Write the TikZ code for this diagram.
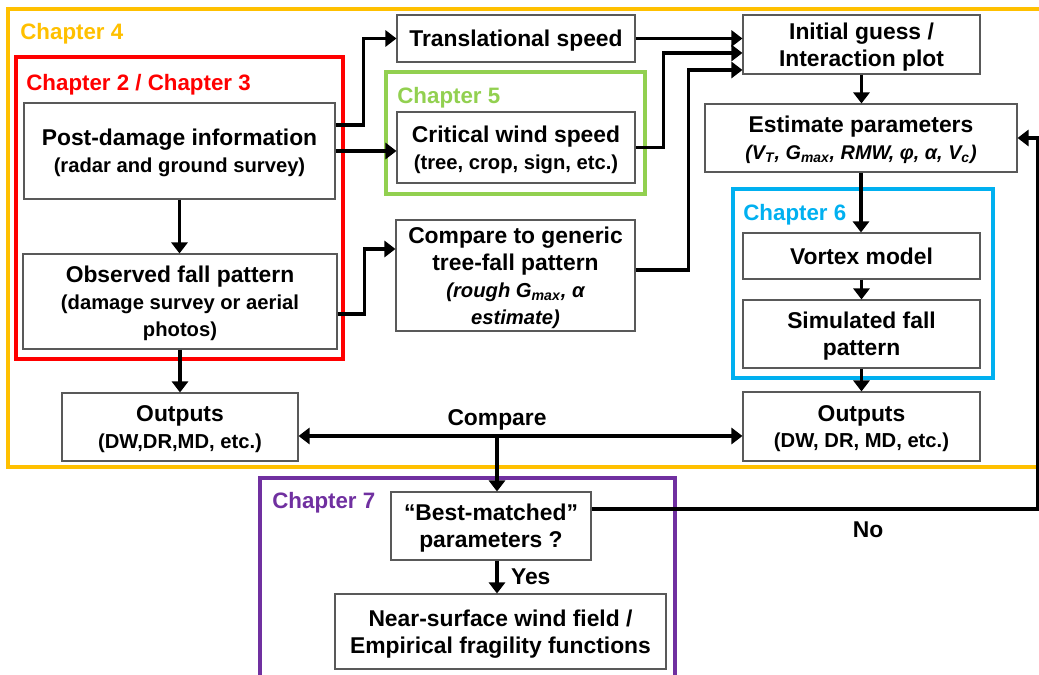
\documentclass[tikz,border=0pt]{standalone}
\usepackage{fontspec}
\setmainfont{Liberation Sans}
\usetikzlibrary{positioning, calc, arrows.meta}
\definecolor{chfour}{HTML}{FFC000}
\definecolor{chtwo}{HTML}{FF0000}
\definecolor{chfive}{HTML}{92D050}
\definecolor{chsix}{HTML}{00B0F0}
\definecolor{chseven}{HTML}{7030A0}
\newcommand{\subtxt}{\fontsize{11.5}{13.6}\selectfont}
\newcommand{\itsub}[2]{\textit{#1}\textsubscript{\textit{#2}}}

\begin{document}
\begin{tikzpicture}[x=0.02cm, y=-0.02cm,
		blk/.style={draw=gray!70!black, line width=0.6pt, rectangle, align=center, inner sep=2pt, text depth=-2pt, font=\bfseries\fontsize{13}{15.3}\selectfont},
		sz/.style 2 args={minimum width=#1*0.02cm, minimum height=#2*0.02cm},
		frame/.style={line width=1.8pt},
		chap/.style={anchor=west, inner sep=0pt, font=\bfseries\fontsize{12.7}{14}\selectfont},
		lbl/.style={inner sep=1pt, font=\bfseries\fontsize{13}{15}\selectfont},
		arrow/.style={line width=2pt, -{Triangle[length=0.22cm, width=0.32cm]}}]
	\useasboundingbox (0,0) rectangle (1039,675);

	\draw[frame, chfour] (1039,9) -- (8,9) -- (8,467) -- (1039,467);
	\draw[frame, chtwo, line width=2.2pt] (16,57) rectangle (343,359);
	\draw[frame, chfive] (386,72) rectangle (645,194);
	\draw[frame, chsix] (733,189) rectangle (993,378);
	\draw[frame, chseven] (260,680) -- (260,478) -- (675,478) -- (675,680);

	\node[chap, chfour] (c4) at (20,34) {Chapter 4};
	\node[chap, chtwo] (c2) at (26,85) {Chapter 2 / Chapter 3};
	\node[chap, chfive] (c5) at (397,98) {Chapter 5};
	\node[chap, chsix] (c6) at (743,215) {Chapter 6};
	\node[chap, chseven] (c7) at (272,503) {Chapter 7};

	\node[blk, sz={311}{96}] (post) at (179.5,151) {Post-damage information\\{\subtxt (radar and ground survey)}};
	\node[blk, sz={314}{95}] (obs) at (180,301.5) {Observed fall pattern\\{\subtxt (damage survey or aerial}\\{\subtxt photos)}};
	\node[blk, sz={236}{68}] (outl) at (180,427) {Outputs\\{\subtxt (DW,DR,MD, etc.)}};
	\node[blk, sz={238}{47}] (trans) at (516,38.5) {Translational speed};
	\node[blk, sz={238}{71}] (crit) at (516,147.5) {Critical wind speed\\{\subtxt (tree, crop, sign, etc.)}};
	\node[blk, sz={239}{111}] (gen) at (515.5,275.5) {Compare to generic\\tree-fall pattern\\{\subtxt\itshape (rough \itsub{G}{max}, α}\\{\subtxt\itshape estimate)}};
	\node[blk, sz={237}{59}] (init) at (861.5,44.5) {Initial guess /\\Interaction plot};
	\node[blk, sz={312}{68}] (est) at (861,138) {Estimate parameters\\{\fontsize{11.3}{13.6}\selectfont\itshape (\itsub{V}{T}, \itsub{G}{max}, RMW, φ, α, \itsub{V}{c})}};
	\node[blk, sz={237}{46}] (vort) at (861.5,256) {Vortex model};
	\node[blk, sz={237}{68}] (sim) at (861.5,334) {Simulated fall\\pattern};
	\node[blk, sz={237}{69}] (outr) at (861.5,426.5) {Outputs\\{\subtxt (DW, DR, MD, etc.)}};
	\node[blk, sz={200}{68}] (best) at (491,526) {“Best-matched”\\parameters ?};
	\node[blk, sz={331}{75}] (near) at (500.5,631.5) {Near-surface wind field /\\Empirical fragility functions};
	\coordinate (cmp) at (497,436);

	\draw[arrow] ([yshift=0.52cm]post.east) -- ++(28,0) |- (trans.west);
	\draw[arrow] (post.east) -- (post.east -| crit.west);
	\draw[arrow] ([yshift=-0.25cm]obs.east) -- ++(27,0) |- ([yshift=0.53cm]gen.west);
	\draw[arrow] (trans.east) -- (trans.east -| init.west);
	\draw[arrow] (crit.east) -- ++(28,0) |- ([yshift=-0.17cm]init.west);
	\draw[arrow] ([yshift=0.11cm]gen.east) -- ++(53,0) |- ([yshift=-0.51cm]init.west);
	\draw[arrow] (post.south) -- (post.south |- obs.north);
	\draw[arrow] (obs.south) -- (obs.south |- outl.north);
	\draw[arrow] (init.south) -- (init.south |- est.north);
	\draw[arrow] (est.south) -- (est.south |- vort.north);
	\draw[arrow] (vort) -- (sim);
	\draw[arrow] (sim) -- (outr);
	\draw[arrow, {Triangle[length=0.22cm, width=0.32cm]}-{Triangle[length=0.22cm, width=0.32cm]}] (outl.east |- cmp) -- (outr.west |- cmp);
	\node[lbl, above=2pt of cmp] (cmplbl) {Compare};
	\draw[arrow] (cmp) -- (cmp |- best.north);
	\draw[arrow] (best.south -| cmp) -- node[lbl, right=6pt] (yes) {Yes} (cmp |- near.north);
	\draw[arrow] ([yshift=0.34cm]best.east) -- node[lbl, below=5pt, pos=0.62] (no) {No} ++(446,0) |- (est.east);
\end{tikzpicture}
\end{document}
